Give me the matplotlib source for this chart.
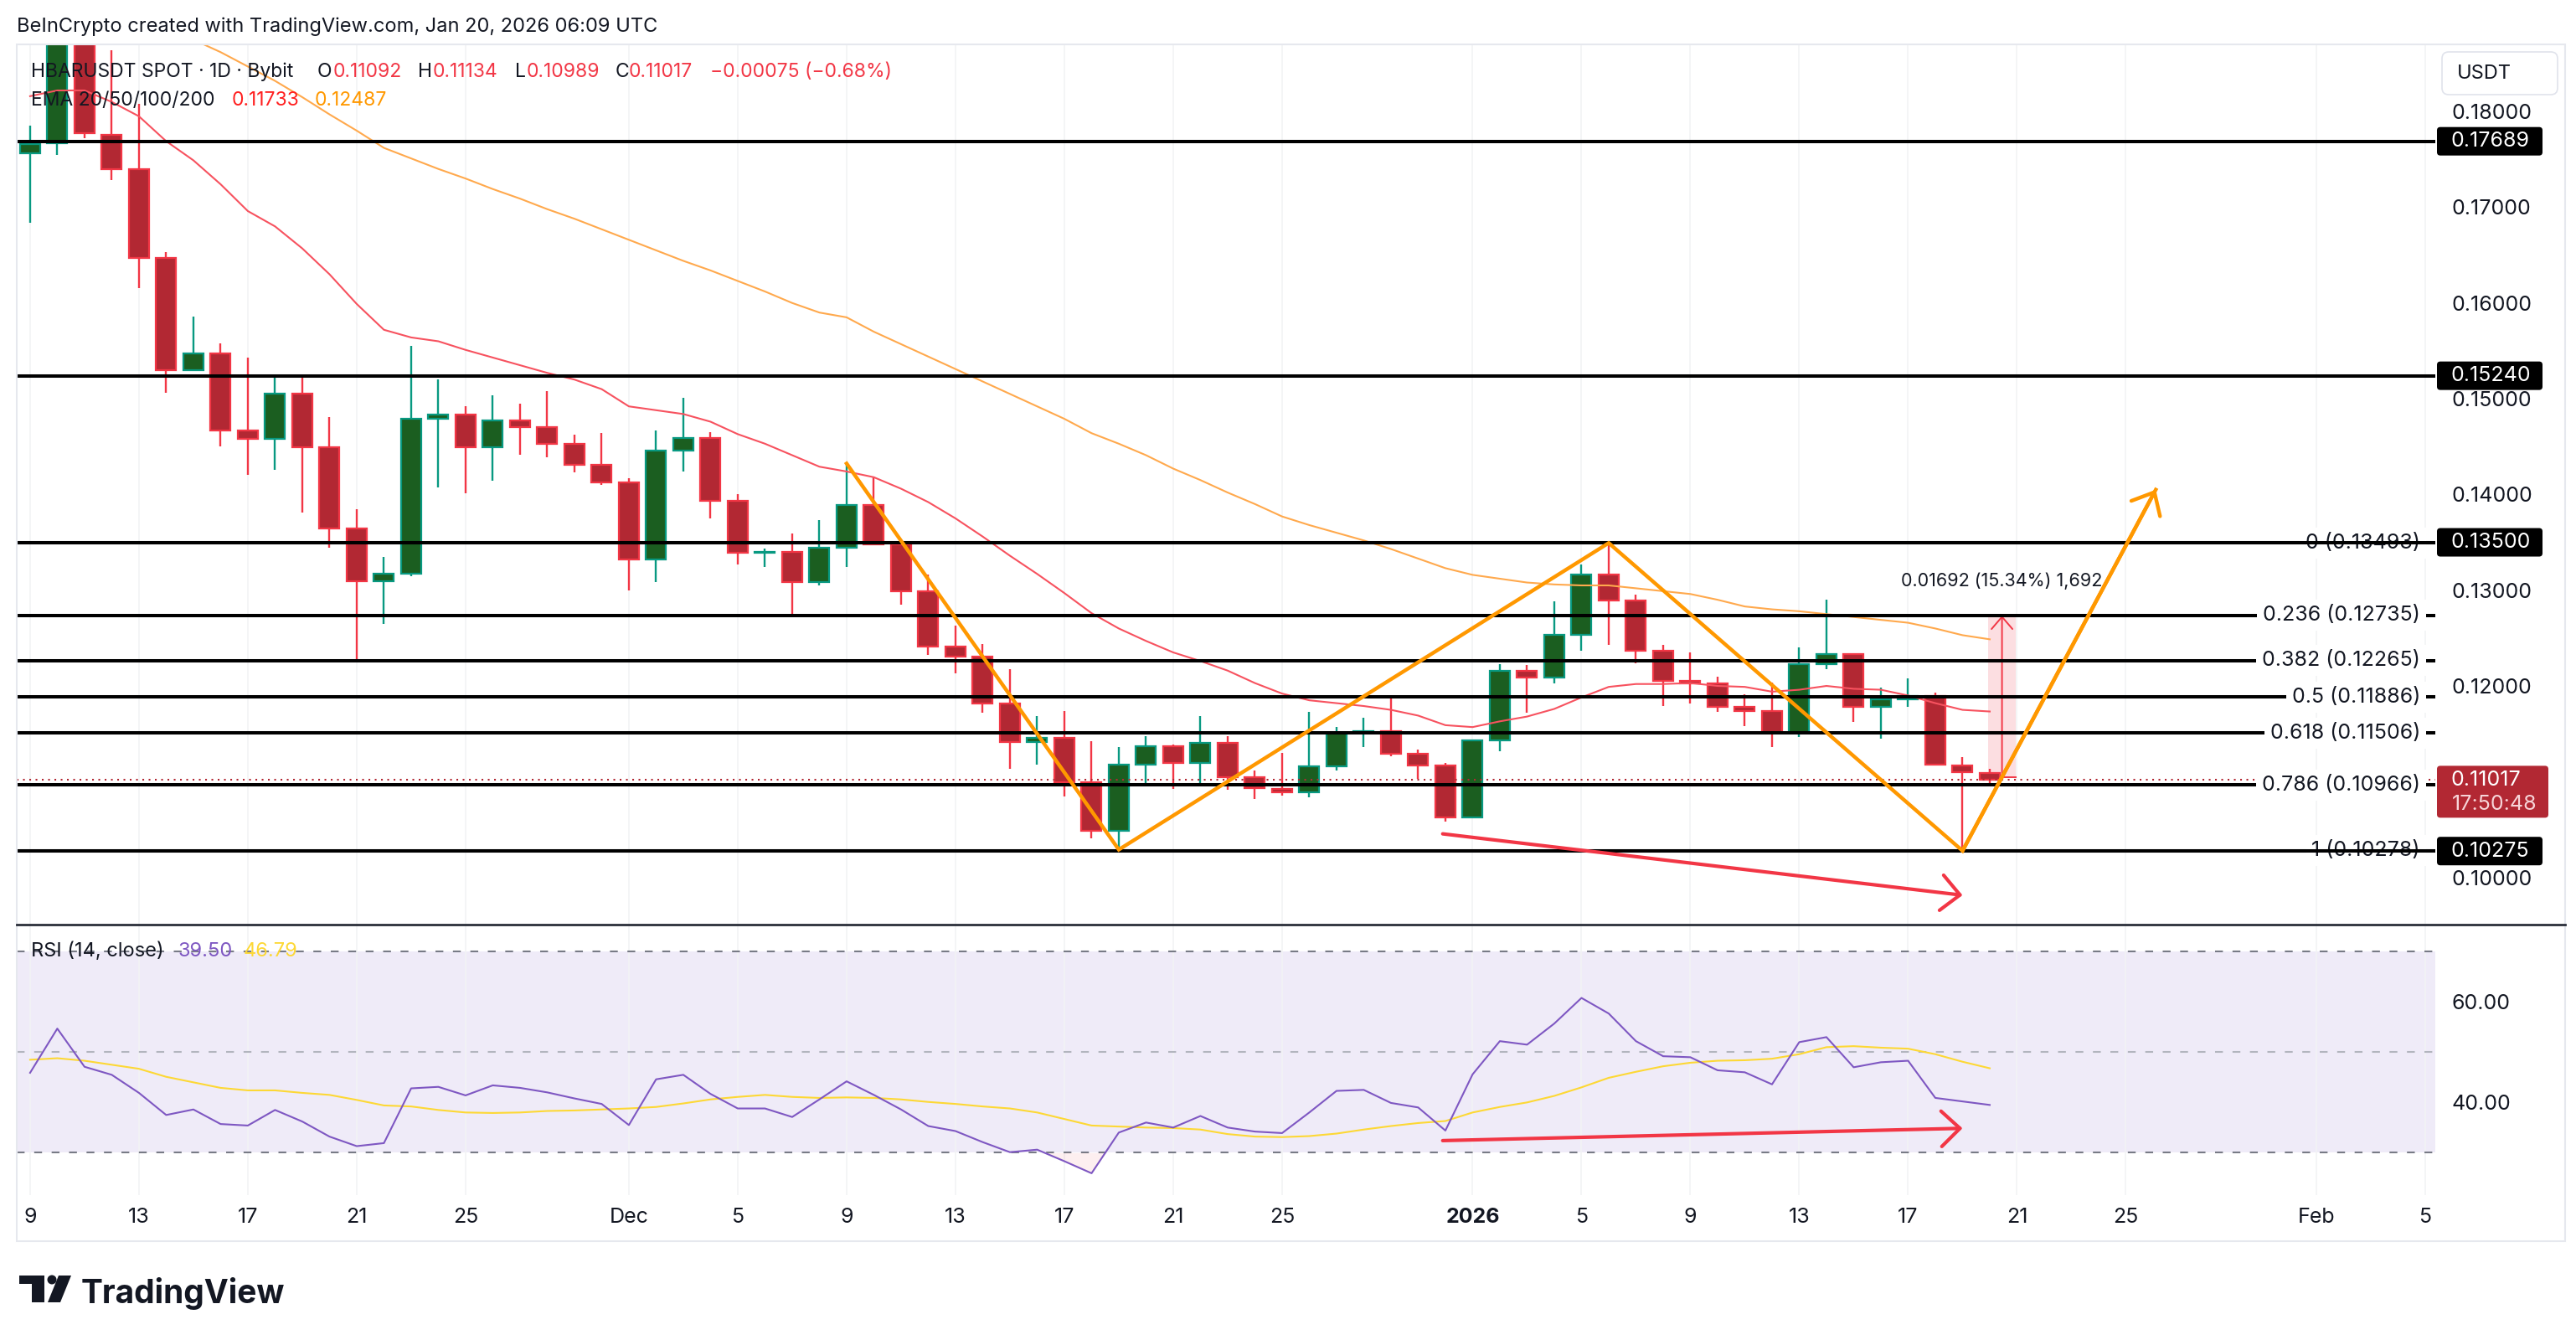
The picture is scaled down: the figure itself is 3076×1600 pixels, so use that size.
import matplotlib
matplotlib.use('Agg')
import matplotlib.pyplot as plt
from matplotlib.patches import Rectangle, FancyBboxPatch, Polygon, Circle
import numpy as np

plt.rcParams['font.family'] = ['Inter', 'DejaVu Sans']

# ---------------- data ----------------
opens = [0.17561, 0.17672, 0.19050, 0.17756, 0.17394, 0.16468, 0.15298, 0.15470, 0.14668, 0.14579,
         0.15052, 0.14495, 0.13648, 0.13090, 0.13174, 0.14790, 0.14834, 0.14491, 0.14772, 0.14702,
         0.14526, 0.14308, 0.14125, 0.13321, 0.14460, 0.14593, 0.13934, 0.13391, 0.13398, 0.13087,
         0.13446, 0.13887, 0.13475, 0.12993, 0.12410, 0.12302, 0.11820, 0.11418, 0.11458, 0.10991,
         0.10490, 0.11181, 0.11371, 0.11196, 0.11405, 0.11043, 0.10923, 0.10888, 0.11156, 0.11512,
         0.11530, 0.11288, 0.11165, 0.10631, 0.11428, 0.12155, 0.12085, 0.12534, 0.13161, 0.12893,
         0.12368, 0.12052, 0.12026, 0.11778, 0.11737, 0.11507, 0.12227, 0.12330, 0.11778, 0.11857,
         0.11892, 0.11165, 0.11092]
highs = [0.17856, 0.19300, 0.19150, 0.18637, 0.18079, 0.16535, 0.15861, 0.15582, 0.15431, 0.15253,
         0.15242, 0.14807, 0.13843, 0.13347, 0.15554, 0.15205, 0.14920, 0.15037, 0.14948, 0.15076,
         0.14624, 0.14640, 0.14168, 0.14667, 0.15006, 0.14647, 0.14004, 0.13438, 0.13590, 0.13731,
         0.14323, 0.14191, 0.13485, 0.13162, 0.12634, 0.12440, 0.12179, 0.11688, 0.11740, 0.11427,
         0.11365, 0.11473, 0.11390, 0.11682, 0.11479, 0.11120, 0.11302, 0.11725, 0.11574, 0.11667,
         0.11901, 0.11337, 0.11194, 0.11440, 0.12230, 0.12222, 0.12887, 0.13267, 0.13493, 0.12957,
         0.12432, 0.12353, 0.12099, 0.11915, 0.12032, 0.12406, 0.12899, 0.12338, 0.11979, 0.12082,
         0.11930, 0.11253, 0.11134]
lows = [0.16842, 0.17544, 0.17717, 0.17288, 0.16151, 0.15058, 0.15298, 0.14501, 0.14205, 0.14261,
        0.13815, 0.13447, 0.12254, 0.12644, 0.13146, 0.14074, 0.14016, 0.14144, 0.14413, 0.14390,
        0.14230, 0.14101, 0.13001, 0.13087, 0.14242, 0.13750, 0.13270, 0.13243, 0.12744, 0.13048,
        0.13240, 0.13475, 0.12849, 0.12324, 0.12130, 0.11719, 0.11135, 0.11178, 0.10843, 0.10404,
        0.10290, 0.10967, 0.10926, 0.10964, 0.10914, 0.10822, 0.10850, 0.10835, 0.11118, 0.11361,
        0.11264, 0.11025, 0.10581, 0.10631, 0.11317, 0.11720, 0.12029, 0.12368, 0.12432, 0.12236,
        0.11790, 0.11819, 0.11731, 0.11580, 0.11361, 0.11469, 0.12175, 0.11623, 0.11448, 0.11784,
        0.11177, 0.10278, 0.10989]
closes = [0.17656, 0.19050, 0.17773, 0.17399, 0.16468, 0.15298, 0.15470, 0.14668, 0.14579, 0.15052,
          0.14495, 0.13648, 0.13090, 0.13174, 0.14790, 0.14834, 0.14491, 0.14772, 0.14702, 0.14526,
          0.14308, 0.14125, 0.13321, 0.14460, 0.14593, 0.13934, 0.13391, 0.13398, 0.13087, 0.13446,
          0.13887, 0.13475, 0.12993, 0.12410, 0.12302, 0.11820, 0.11418, 0.11458, 0.10991, 0.10490,
          0.11181, 0.11371, 0.11196, 0.11405, 0.11043, 0.10932, 0.10888, 0.11156, 0.11512, 0.11530,
          0.11288, 0.11165, 0.10631, 0.11428, 0.12155, 0.12085, 0.12534, 0.13161, 0.12893, 0.12368,
          0.12052, 0.12026, 0.11778, 0.11737, 0.11507, 0.12227, 0.12330, 0.11778, 0.11857, 0.11892,
          0.11177, 0.11098, 0.11017]

ema20 = [0.1816, 0.1822, 0.1822, 0.1810, 0.1795, 0.1769, 0.1749, 0.1724, 0.1696, 0.1680,
         0.1657, 0.1630, 0.1599, 0.1572, 0.1564, 0.1560, 0.1551, 0.1543, 0.1535, 0.1527,
         0.1520, 0.1510, 0.1492, 0.1488, 0.1484, 0.1476, 0.1463, 0.1453, 0.1441, 0.1429,
         0.1424, 0.1418, 0.1406, 0.1392, 0.1375, 0.1356, 0.1336, 0.1317, 0.1297, 0.1276,
         0.1260, 0.1247, 0.1235, 0.1226, 0.1216, 0.1203, 0.1192, 0.1185, 0.1182, 0.1179,
         0.1175, 0.1169, 0.1159, 0.1157, 0.1163, 0.1168, 0.1176, 0.1188, 0.1199, 0.1202,
         0.1202, 0.1203, 0.1200, 0.1199, 0.1194, 0.1196, 0.1200, 0.1197, 0.1196, 0.1190,
         0.1182, 0.1175, 0.11733]
ema50 = [0.1950, 0.1940, 0.1928, 0.1915, 0.1902, 0.1888, 0.1875, 0.1862, 0.1847, 0.1832,
         0.1815, 0.1797, 0.1780, 0.1762, 0.1751, 0.1740, 0.1730, 0.1719, 0.1709, 0.1698,
         0.1688, 0.1677, 0.1666, 0.1655, 0.1644, 0.1634, 0.1623, 0.1612, 0.1600, 0.1590,
         0.1585, 0.1570, 0.1557, 0.1544, 0.1531, 0.1518, 0.1505, 0.1492, 0.1479, 0.1464,
         0.1453, 0.1441, 0.1427, 0.1415, 0.1402, 0.1390, 0.1377, 0.1368, 0.1360, 0.1352,
         0.1343, 0.1333, 0.1323, 0.1316, 0.1312, 0.1308, 0.1306, 0.1305, 0.1305, 0.1302,
         0.1299, 0.1296, 0.1290, 0.1283, 0.1280, 0.1278, 0.1275, 0.1272, 0.1269, 0.1266,
         0.1260, 0.1253, 0.12487]

rsi = [45.9, 54.7, 47.1, 45.5, 41.9, 37.5, 38.6, 35.7, 35.4, 38.5,
       36.2, 33.2, 31.3, 31.9, 42.8, 43.1, 41.4, 43.4, 42.9, 42.0,
       40.8, 39.7, 35.5, 44.6, 45.5, 41.7, 38.8, 38.8, 37.1, 40.6,
       44.2, 41.5, 38.6, 35.3, 34.3, 32.1, 30.1, 30.6, 28.3, 25.9,
       34.0, 36.0, 35.0, 37.3, 35.0, 34.2, 33.9, 38.0, 42.3, 42.5,
       39.9, 39.0, 34.4, 45.6, 52.2, 51.5, 55.7, 60.8, 57.7, 52.2,
       49.2, 49.0, 46.4, 46.0, 43.6, 52.0, 53.0, 47.0, 48.0, 48.3,
       40.9, 40.2, 39.5]
rsi_ma = [48.5, 48.8, 48.3, 47.5, 46.7, 45.1, 44.0, 42.9, 42.4, 42.4,
          41.9, 41.5, 40.5, 39.4, 39.2, 38.5, 38.0, 37.9, 38.0, 38.3,
          38.4, 38.6, 38.8, 39.1, 39.8, 40.6, 41.1, 41.5, 41.1, 40.9,
          41.0, 40.9, 40.6, 40.1, 39.7, 39.2, 38.8, 38.0, 36.7, 35.4,
          35.2, 35.0, 34.9, 34.6, 33.7, 33.2, 33.1, 33.3, 33.8, 34.6,
          35.3, 35.9, 36.3, 38.0, 39.1, 40.0, 41.3, 43.0, 44.9, 46.1,
          47.2, 47.9, 48.3, 48.4, 48.7, 49.6, 51.0, 51.2, 50.9, 50.7,
          49.6, 48.1, 46.8]

tick_idx = [0, 4, 8, 12, 16, 22, 26, 30, 34, 38, 42, 46, 53, 57, 61, 65, 69, 73, 77, 84, 88]
tick_labels = ['9', '13', '17', '21', '25', 'Dec', '5', '9', '13', '17', '21', '25',
               '2026', '5', '9', '13', '17', '21', '25', 'Feb', '5']

price_ticks = [0.10, 0.12, 0.13, 0.14, 0.15, 0.16, 0.17, 0.18]
hlines = [0.17689, 0.15240, 0.13500, 0.10275]
fib_ratio = ['0', '0.236', '0.382', '0.5', '0.618', '0.786', '1']
fib_price = [0.13493, 0.12735, 0.12265, 0.11886, 0.11506, 0.10966, 0.10278]
last_price = 0.11017

zz_idx = [30, 40, 58, 71, 78.1]
zz_px = [0.14323, 0.10290, 0.13493, 0.10278, 0.1405]
div_idx = [51.9, 71.0]
div_px = [0.10455, 0.09814]
rsi_div_idx = [51.9, 71.0]
rsi_div_val = [32.4, 34.85]
meas_idx = [71.95, 72.95]
meas_px = [0.11043, 0.12735]
meas_text = '0.01692 (15.34%) 1,692'

# ---------------- figure / layout ----------------
W, H = 3076, 1600
fig = plt.figure(figsize=(W / 100, H / 100), dpi=100)
fig.patch.set_facecolor('white')

PL, PR, PT, PB, RB = 20, 2908, 53, 1104, 1427
XL, XR = -0.49, 88.37
AXFS = 18


def fax(x0, y0, x1, y1):
    return fig.add_axes([x0 / W, 1 - y1 / H, (x1 - x0) / W, (y1 - y0) / H])


ax = fax(PL, PT, PR, PB)
rx = fax(PL, PB, PR, RB)
for a in (ax, rx):
    a.set_facecolor('white')
    for s in a.spines.values():
        s.set_visible(False)
    a.set_xlim(XL, XR)
    a.set_xticks(tick_idx)
    a.grid(axis='x', color='#f2f3f5', lw=1.2, zorder=0)
    a.set_axisbelow(True)

ax.set_ylim(0.09507, 0.18701)
rx.set_ylim(21.55, 75.4)

TXT = '#131722'
# price axis ticks
ax.yaxis.tick_right()
ax.set_yticks(price_ticks)
ax.set_yticklabels([f'{v:.5f}' for v in price_ticks])
ax.tick_params(axis='y', length=0, pad=13.7, labelsize=AXFS, labelcolor=TXT)
ax.tick_params(axis='x', length=0, labelbottom=False)

rx.yaxis.tick_right()
rx.set_yticks([40, 60])
rx.set_yticklabels(['40.00', '60.00'])
rx.tick_params(axis='y', length=0, pad=13.7, labelsize=AXFS, labelcolor=TXT)
rx.set_xticklabels(tick_labels)
rx.tick_params(axis='x', length=0, pad=11, labelsize=AXFS, labelcolor=TXT)
for lab in rx.get_xticklabels():
    if lab.get_text() == '2026':
        lab.set_fontweight('bold')

# ---------------- candles ----------------
o = np.array(opens); h = np.array(highs); l = np.array(lows); c = np.array(closes)
idx = np.arange(len(o))
up = c >= o
edge = np.where(up, '#089981', '#f23645')
face = np.where(up, '#1b5e20', '#b22833')
ax.vlines(idx, l, h, colors=edge, lw=1.7, zorder=3)
body_lo = np.minimum(o, c)
body_h = np.maximum(np.abs(c - o), 0.00008)
ax.bar(idx, body_h, bottom=body_lo, width=0.74, color=face, edgecolor=edge, lw=1.6, zorder=4)

# EMAs
ax.plot(idx, ema20, color='#f7525f', lw=1.5, zorder=4.5)
ax.plot(idx, ema50, color='#ffa94d', lw=1.5, zorder=4.5)

# measurement box
ax.add_patch(Rectangle((meas_idx[0], meas_px[0]), meas_idx[1] - meas_idx[0], meas_px[1] - meas_px[0],
                       facecolor='#f23645', alpha=0.16, edgecolor='none', zorder=2))
ax.plot(meas_idx, [meas_px[1]] * 2, color='#f23645', lw=1.4, zorder=2.5)
ax.plot(meas_idx, [meas_px[0]] * 2, color='#f23645', lw=1.4, zorder=2.5)
mid = (meas_idx[0] + meas_idx[1]) / 2
ax.annotate('', xy=(mid, meas_px[1]), xytext=(mid, meas_px[0]),
            arrowprops=dict(arrowstyle='->,head_length=0.35,head_width=0.3', color='#f23645', lw=1.4,
                            shrinkA=0, shrinkB=0, mutation_scale=30), zorder=2.6)
ax.text(mid, 0.13100, meas_text, ha='center', va='center', fontsize=15.5, color=TXT, zorder=7)

# current price dotted line
ax.axhline(last_price, color='#b22833', ls=(0, (1, 2.6)), lw=1.5, zorder=4.8)

# fib levels
ytr = ax.get_yaxis_transform()
for r, p in zip(fib_ratio, fib_price):
    ax.axhline(p, color='black', lw=2.9, zorder=5)
    ax.text((2890 - PL) / (PR - PL), p, f'{r} ({p:.5f})', transform=ytr, ha='right', va='center',
            fontsize=18, color=TXT, zorder=5.5,
            bbox=dict(boxstyle='square,pad=0.28', fc='white', ec='none'))
# horizontal lines
for p in hlines:
    ax.axhline(p, color='black', lw=2.9, zorder=6)

# zigzag
ax.plot(zz_idx, zz_px, color='#ff9800', lw=3.2, zorder=6.5, solid_joinstyle='miter')
ax.annotate('', xy=(zz_idx[-1], zz_px[-1]), xytext=(zz_idx[-2], zz_px[-2]),
            arrowprops=dict(arrowstyle='->,head_length=0.4,head_width=0.35', color='#ff9800', lw=3.2,
                            shrinkA=0, shrinkB=0, mutation_scale=40), zorder=6.5)
# divergence arrow (price)
ax.annotate('', xy=(div_idx[1], div_px[1]), xytext=(div_idx[0], div_px[0]),
            arrowprops=dict(arrowstyle='->,head_length=0.4,head_width=0.38', color='#f23645', lw=3.0,
                            shrinkA=0, shrinkB=0, mutation_scale=40), zorder=6.5)

# ---------------- RSI ----------------
rsi_a = np.array(rsi)
rx.axhspan(30, 70, color='#efebf8', zorder=0.5, lw=0)
rx.axhline(70, color='#787b86', lw=1.5, ls=(0, (4.5, 5.5)), zorder=1)
rx.axhline(30, color='#787b86', lw=1.5, ls=(0, (4.5, 5.5)), zorder=1)
rx.axhline(50, color='#b2b5be', lw=1.5, ls=(0, (4.5, 5.5)), zorder=1)
rx.fill_between(idx, rsi_a, 30, where=rsi_a < 30, interpolate=True, color='#f23645', alpha=0.08, lw=0, zorder=1)
rx.plot(idx, rsi_ma, color='#fdd835', lw=1.5, zorder=2)
rx.plot(idx, rsi, color='#7e57c2', lw=1.5, zorder=3)
rx.annotate('', xy=(rsi_div_idx[1], rsi_div_val[1]), xytext=(rsi_div_idx[0], rsi_div_val[0]),
            arrowprops=dict(arrowstyle='->,head_length=0.4,head_width=0.38', color='#f23645', lw=3.0,
                            shrinkA=0, shrinkB=0, mutation_scale=40), zorder=4)

# ---------------- overlay ----------------
ov = fig.add_axes([0, 0, 1, 1])
ov.set_xlim(0, W)
ov.set_ylim(H, 0)
ov.axis('off')


def ypix(a, v):
    return H - a.transData.transform((0, v))[1]


# frame and pane separator
ov.add_patch(Rectangle((PL, PT), 3063 - PL, 1482 - PT, fill=False, ec='#e6e8ee', lw=1.5))
ov.plot([PL, 3063], [PB, PB], color='#2a2e39', lw=2.0)

# price labels on axis
for p in hlines:
    y = ypix(ax, p)
    ov.add_patch(FancyBboxPatch((2910, y - 17), 126, 34, boxstyle='round,pad=0,rounding_size=4',
                                fc='black', ec='none', zorder=10))
    ov.text(2926, y, f'{p:.5f}', color='white', fontsize=AXFS, va='center', ha='left', zorder=11)
y = ypix(ax, last_price)
ov.add_patch(FancyBboxPatch((2910, y - 17), 133, 62, boxstyle='round,pad=0,rounding_size=4',
                            fc='#b22833', ec='none', zorder=10))
ov.text(2926, y, f'{last_price:.5f}', color='white', fontsize=AXFS, va='center', ha='left', zorder=11)
ov.text(2928, y + 29, '17:50:48', color='#f7d4d8', fontsize=AXFS, va='center', ha='left', zorder=11)

# USDT box
ov.add_patch(FancyBboxPatch((2916, 62), 138, 51, boxstyle='round,pad=0,rounding_size=8',
                            fc='white', ec='#e0e3eb', lw=1.2, zorder=10))
ov.text(2934, 88, 'USDT', color=TXT, fontsize=17, va='center', ha='left', zorder=11)

# header texts
RED = '#f23645'
ov.text(20, 32, 'BeInCrypto created with TradingView.com, Jan 20, 2026 06:09 UTC', fontsize=17,
        color=TXT, va='center', ha='left')
hdr = [(37, 'HBARUSDT SPOT · 1D · Bybit', TXT), (379, 'O', TXT), (398, '0.11092', RED),
       (499, 'H', TXT), (517, '0.11134', RED), (615, 'L', TXT), (629, '0.10989', RED),
       (735, 'C', TXT), (751, '0.11017', RED), (848, '\u22120.00075 (\u22120.68%)', RED)]
for x, s, col in hdr:
    ov.text(x, 86, s, fontsize=16.5, color=col, va='center', ha='left', zorder=12)
for x, s, col in [(37, 'EMA 20/50/100/200', TXT), (277, '0.11733', '#ff1f1f'), (376, '0.12487', '#ff9800')]:
    ov.text(x, 120, s, fontsize=16.5, color=col, va='center', ha='left', zorder=12)
for x, s, col in [(37, 'RSI (14, close)', TXT), (212, '39.50', '#7e57c2'), (291, '46.79', '#fdd835')]:
    ov.text(x, 1136, s, fontsize=17, color=col, va='center', ha='left', zorder=12)

# TradingView logo
ov.add_patch(Polygon([(23, 1523), (53, 1523), (53, 1555), (38, 1555), (38, 1533), (23, 1533)],
                     closed=True, fc='#131722', ec='none'))
ov.add_patch(Circle((62, 1528), 5.5, fc='#131722', ec='none'))
ov.add_patch(Polygon([(70, 1523), (85, 1523), (72, 1555), (57, 1555)], closed=True, fc='#131722', ec='none'))
ov.text(97, 1556, 'TradingView', fontsize=28, fontweight='bold', color='#131722', va='baseline', ha='left')

fig.savefig('out.png', dpi=100, facecolor='white')
